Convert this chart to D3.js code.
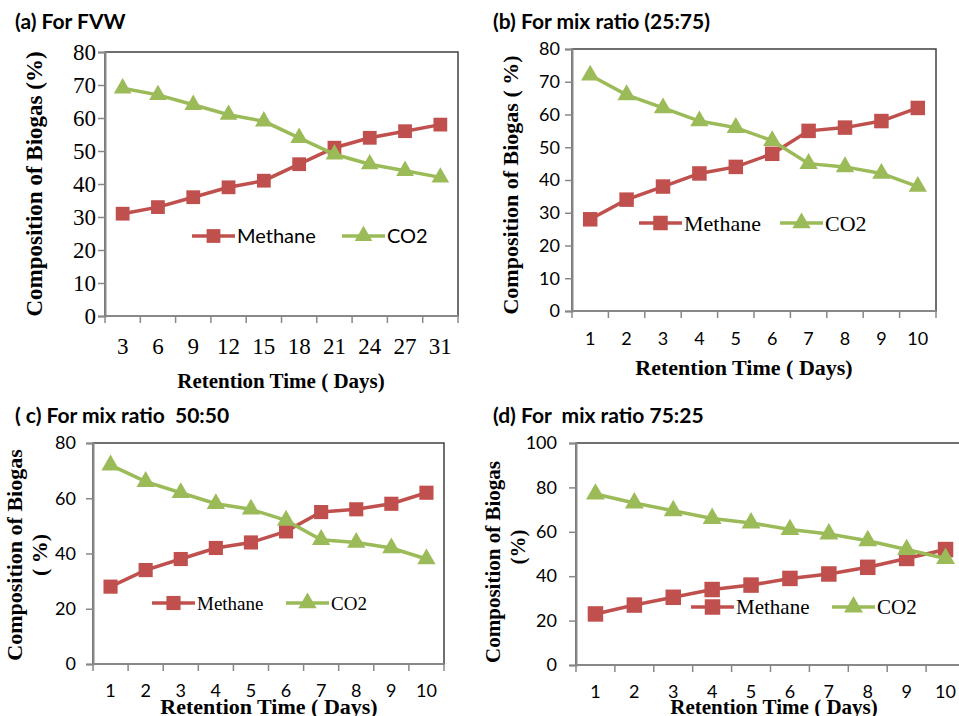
<!DOCTYPE html>
<html>
<head>
<meta charset="utf-8">
<script src="https://cdn.jsdelivr.net/npm/d3@7"></script>
<style>
  body { margin: 0; background: #fff; }
  svg { display: block; }
</style>
</head>
<body>
<div id="container"></div>
<script>
// ---- data ----
var daysA = ['3', '6', '9', '12', '15', '18', '21', '24', '27', '31'];
var methaneA = [31, 33, 36, 39, 41, 46, 51, 54, 56, 58];
var co2A = [69, 67, 64, 61, 59, 54, 49, 46, 44, 42];

var daysB = ['1', '2', '3', '4', '5', '6', '7', '8', '9', '10'];
var methaneB = [28, 34, 38, 42, 44, 48, 55, 56, 58, 62];
var co2B = [72, 66, 62, 58, 56, 52, 45, 44, 42, 38];

var daysC = ['1', '2', '3', '4', '5', '6', '7', '8', '9', '10'];
var methaneC = [28, 34, 38, 42, 44, 48, 55, 56, 58, 62];
var co2C = [72, 66, 62, 58, 56, 52, 45, 44, 42, 38];

var daysD = ['1', '2', '3', '4', '5', '6', '7', '8', '9', '10'];
var methaneD = [23, 27, 30.5, 34, 36, 39, 41, 44, 48, 52];
var co2D = [77, 73, 69.5, 66, 64, 61, 59, 56, 52, 48];

var yTicksA = [0, 10, 20, 30, 40, 50, 60, 70, 80];
var yTicksB = [0, 10, 20, 30, 40, 50, 60, 70, 80];
var yTicksC = [0, 20, 40, 60, 80];
var yTicksD = [0, 20, 40, 60, 80, 100];

var seriesNames = ['Methane', 'CO2'];

var RED = '#C0504D', GREEN = '#9BBB59';
var SERIF = '"Liberation Serif", "Times New Roman", serif';
var SANS = 'Lato, "Open Sans", sans-serif';

var svg = d3.select('#container').append('svg').attr('width', 959).attr('height', 716);

var lineGen = d3.line().x(d => d.x).y(d => d.y);
var square = d3.symbol().type(d3.symbolSquare);
var triangle = d3.symbol().type(d3.symbolTriangle);

// ************************************************************************************** //
// One panel

function drawPanel(p) {
  var g = svg.append('g');

  var x = d3.scaleBand().domain(p.cats).range([p.x0, p.x1]).padding(0);
  var y = d3.scaleLinear().domain([0, p.yTicks[p.yTicks.length - 1]]).range([p.y1, p.y0]);

  // plot area frame (top/right dark)
  g.append('rect').attr('x', p.x0).attr('y', p.y0).attr('width', p.x1 - p.x0).attr('height', p.y1 - p.y0)
    .attr('fill', 'none').attr('stroke', '#404040').attr('stroke-width', 1.5);

  // y axis
  var yAxis = g.append('g').attr('transform', 'translate(' + p.x0 + ',0)')
    .call(d3.axisLeft(y).tickValues(p.yTicks).tickSize(7).tickPadding(p.yPad).tickFormat(d3.format('d')));
  yAxis.select('.domain').attr('stroke', '#888').attr('stroke-width', 2);
  yAxis.selectAll('.tick line').attr('stroke', '#888').attr('stroke-width', 1.5);
  yAxis.selectAll('.tick text').attr('font-family', p.tickFont).attr('font-size', p.tickSize).attr('fill', '#000');

  // x axis: ticks on category boundaries, labels at centres
  var xAxis = g.append('g').attr('transform', 'translate(0,' + p.y1 + ')');
  xAxis.append('line').attr('x1', p.x0).attr('x2', p.x1).attr('stroke', '#888').attr('stroke-width', 2);
  var bounds = p.cats.map(c => x(c)).concat([p.x1]);
  xAxis.selectAll('line.tk').data(bounds).join('line').attr('class', 'tk')
    .attr('x1', d => d).attr('x2', d => d).attr('y1', 0).attr('y2', 7)
    .attr('stroke', '#888').attr('stroke-width', 1.5);
  g.selectAll('text.xl').data(p.cats).join('text').attr('class', 'xl')
    .attr('x', d => x(d) + x.bandwidth() / 2).attr('y', p.xLabelY)
    .attr('text-anchor', 'middle').attr('font-family', p.tickFont).attr('font-size', p.tickSize)
    .text(d => d);

  // series
  var cx = d => x(d) + x.bandwidth() / 2;
  [[p.methane, RED, square, p.sq], [p.co2, GREEN, triangle, p.tri]].forEach(function(s) {
    var pts = p.cats.map((c, i) => ({ x: cx(c), y: y(s[0][i]) }));
    g.append('path').attr('d', lineGen(pts)).attr('fill', 'none').attr('stroke', s[1]).attr('stroke-width', 3.5);
    g.selectAll(null).data(pts).join('path')
      .attr('transform', d => 'translate(' + d.x + ',' + d.y + ')')
      .attr('d', s[2].size(s[3])()).attr('fill', s[1]);
  });

  // legend
  var leg = g.append('g');
  p.legend.forEach(function(l, i) {
    var col = i === 0 ? RED : GREEN;
    leg.append('line').attr('x1', l[0]).attr('x2', l[0] + 43).attr('y1', p.legY).attr('y2', p.legY)
      .attr('stroke', col).attr('stroke-width', 3.5);
    leg.append('path').attr('transform', 'translate(' + (l[0] + 21.5) + ',' + p.legY + ')')
      .attr('d', (i === 0 ? square.size(p.sq) : triangle.size(p.tri))()).attr('fill', col);
    leg.append('text').attr('x', l[0] + 45).attr('y', p.legY).attr('dy', '0.35em')
      .attr('font-family', p.legFont).attr('font-size', p.legSize).text(seriesNames[i]);
  });

  // panel title
  g.append('text').attr('x', p.titleX).attr('y', p.titleY).style('white-space', 'pre')
    .attr('font-family', SANS).attr('font-weight', 'bold').attr('font-size', 21).text(p.title);

  // axis titles
  p.yTitle.forEach(function(t) {
    g.append('text').attr('transform', 'rotate(-90)').attr('x', -t[2]).attr('y', t[1])
      .attr('text-anchor', 'middle').attr('font-family', SERIF).attr('font-weight', 'bold')
      .attr('font-size', p.yTitleSize).text(t[0]);
  });
  g.append('text').attr('x', p.xTitleX).attr('y', p.xTitleY).attr('text-anchor', 'middle')
    .attr('font-family', SERIF).attr('font-weight', 'bold').attr('font-size', p.xTitleSize)
    .text('Retention Time ( Days)');
}

drawPanel({
  cats: daysA, methane: methaneA, co2: co2A, yTicks: yTicksA,
  x0: 105, x1: 458, y0: 52, y1: 316,
  tickFont: SERIF, tickSize: 23, yPad: 2, xLabelY: 354,
  sq: 190, tri: 135,
  legY: 236, legend: [[192], [342]], legFont: SANS, legSize: 20,
  title: '(a) For FVW', titleX: 15, titleY: 29,
  yTitle: [['Composition of Biogas (%)', 42, 184]], yTitleSize: 23,
  xTitleX: 281, xTitleY: 388, xTitleSize: 21
});

drawPanel({
  cats: daysB, methane: methaneB, co2: co2B, yTicks: yTicksB,
  x0: 572, x1: 936, y0: 49, y1: 311,
  tickFont: SANS, tickSize: 18, yPad: 5, xLabelY: 345,
  sq: 210, tri: 145,
  legY: 223, legend: [[639], [780]], legFont: SERIF, legSize: 22,
  title: '(b) For mix ratio (25:75)', titleX: 493, titleY: 29,
  yTitle: [['Composition of Biogas ( %)', 518, 185]], yTitleSize: 22,
  xTitleX: 744, xTitleY: 375, xTitleSize: 22
});

drawPanel({
  cats: daysC, methane: methaneC, co2: co2C, yTicks: yTicksC,
  x0: 93, x1: 444, y0: 443, y1: 664,
  tickFont: SANS, tickSize: 18, yPad: 10, xLabelY: 697,
  sq: 200, tri: 145,
  legY: 603, legend: [[152], [286]], legFont: SERIF, legSize: 19,
  title: '( c) For mix ratio  50:50', titleX: 15, titleY: 423,
  yTitle: [['Composition of Biogas', 22, 555], ['( %)', 47, 555]], yTitleSize: 22,
  xTitleX: 269, xTitleY: 714, xTitleSize: 22
});

drawPanel({
  cats: daysD, methane: methaneD, co2: co2D, yTicks: yTicksD,
  x0: 576, x1: 965, y0: 443, y1: 665,
  tickFont: SANS, tickSize: 18, yPad: 12, xLabelY: 698,
  sq: 240, tri: 155,
  legY: 607, legend: [[691], [832]], legFont: SERIF, legSize: 21,
  title: '(d) For  mix ratio 75:25', titleX: 493, titleY: 423,
  yTitle: [['Composition of Biogas', 500, 562], ['(%)', 525, 547]], yTitleSize: 21,
  xTitleX: 774, xTitleY: 714, xTitleSize: 21
});
</script>
</body>
</html>
